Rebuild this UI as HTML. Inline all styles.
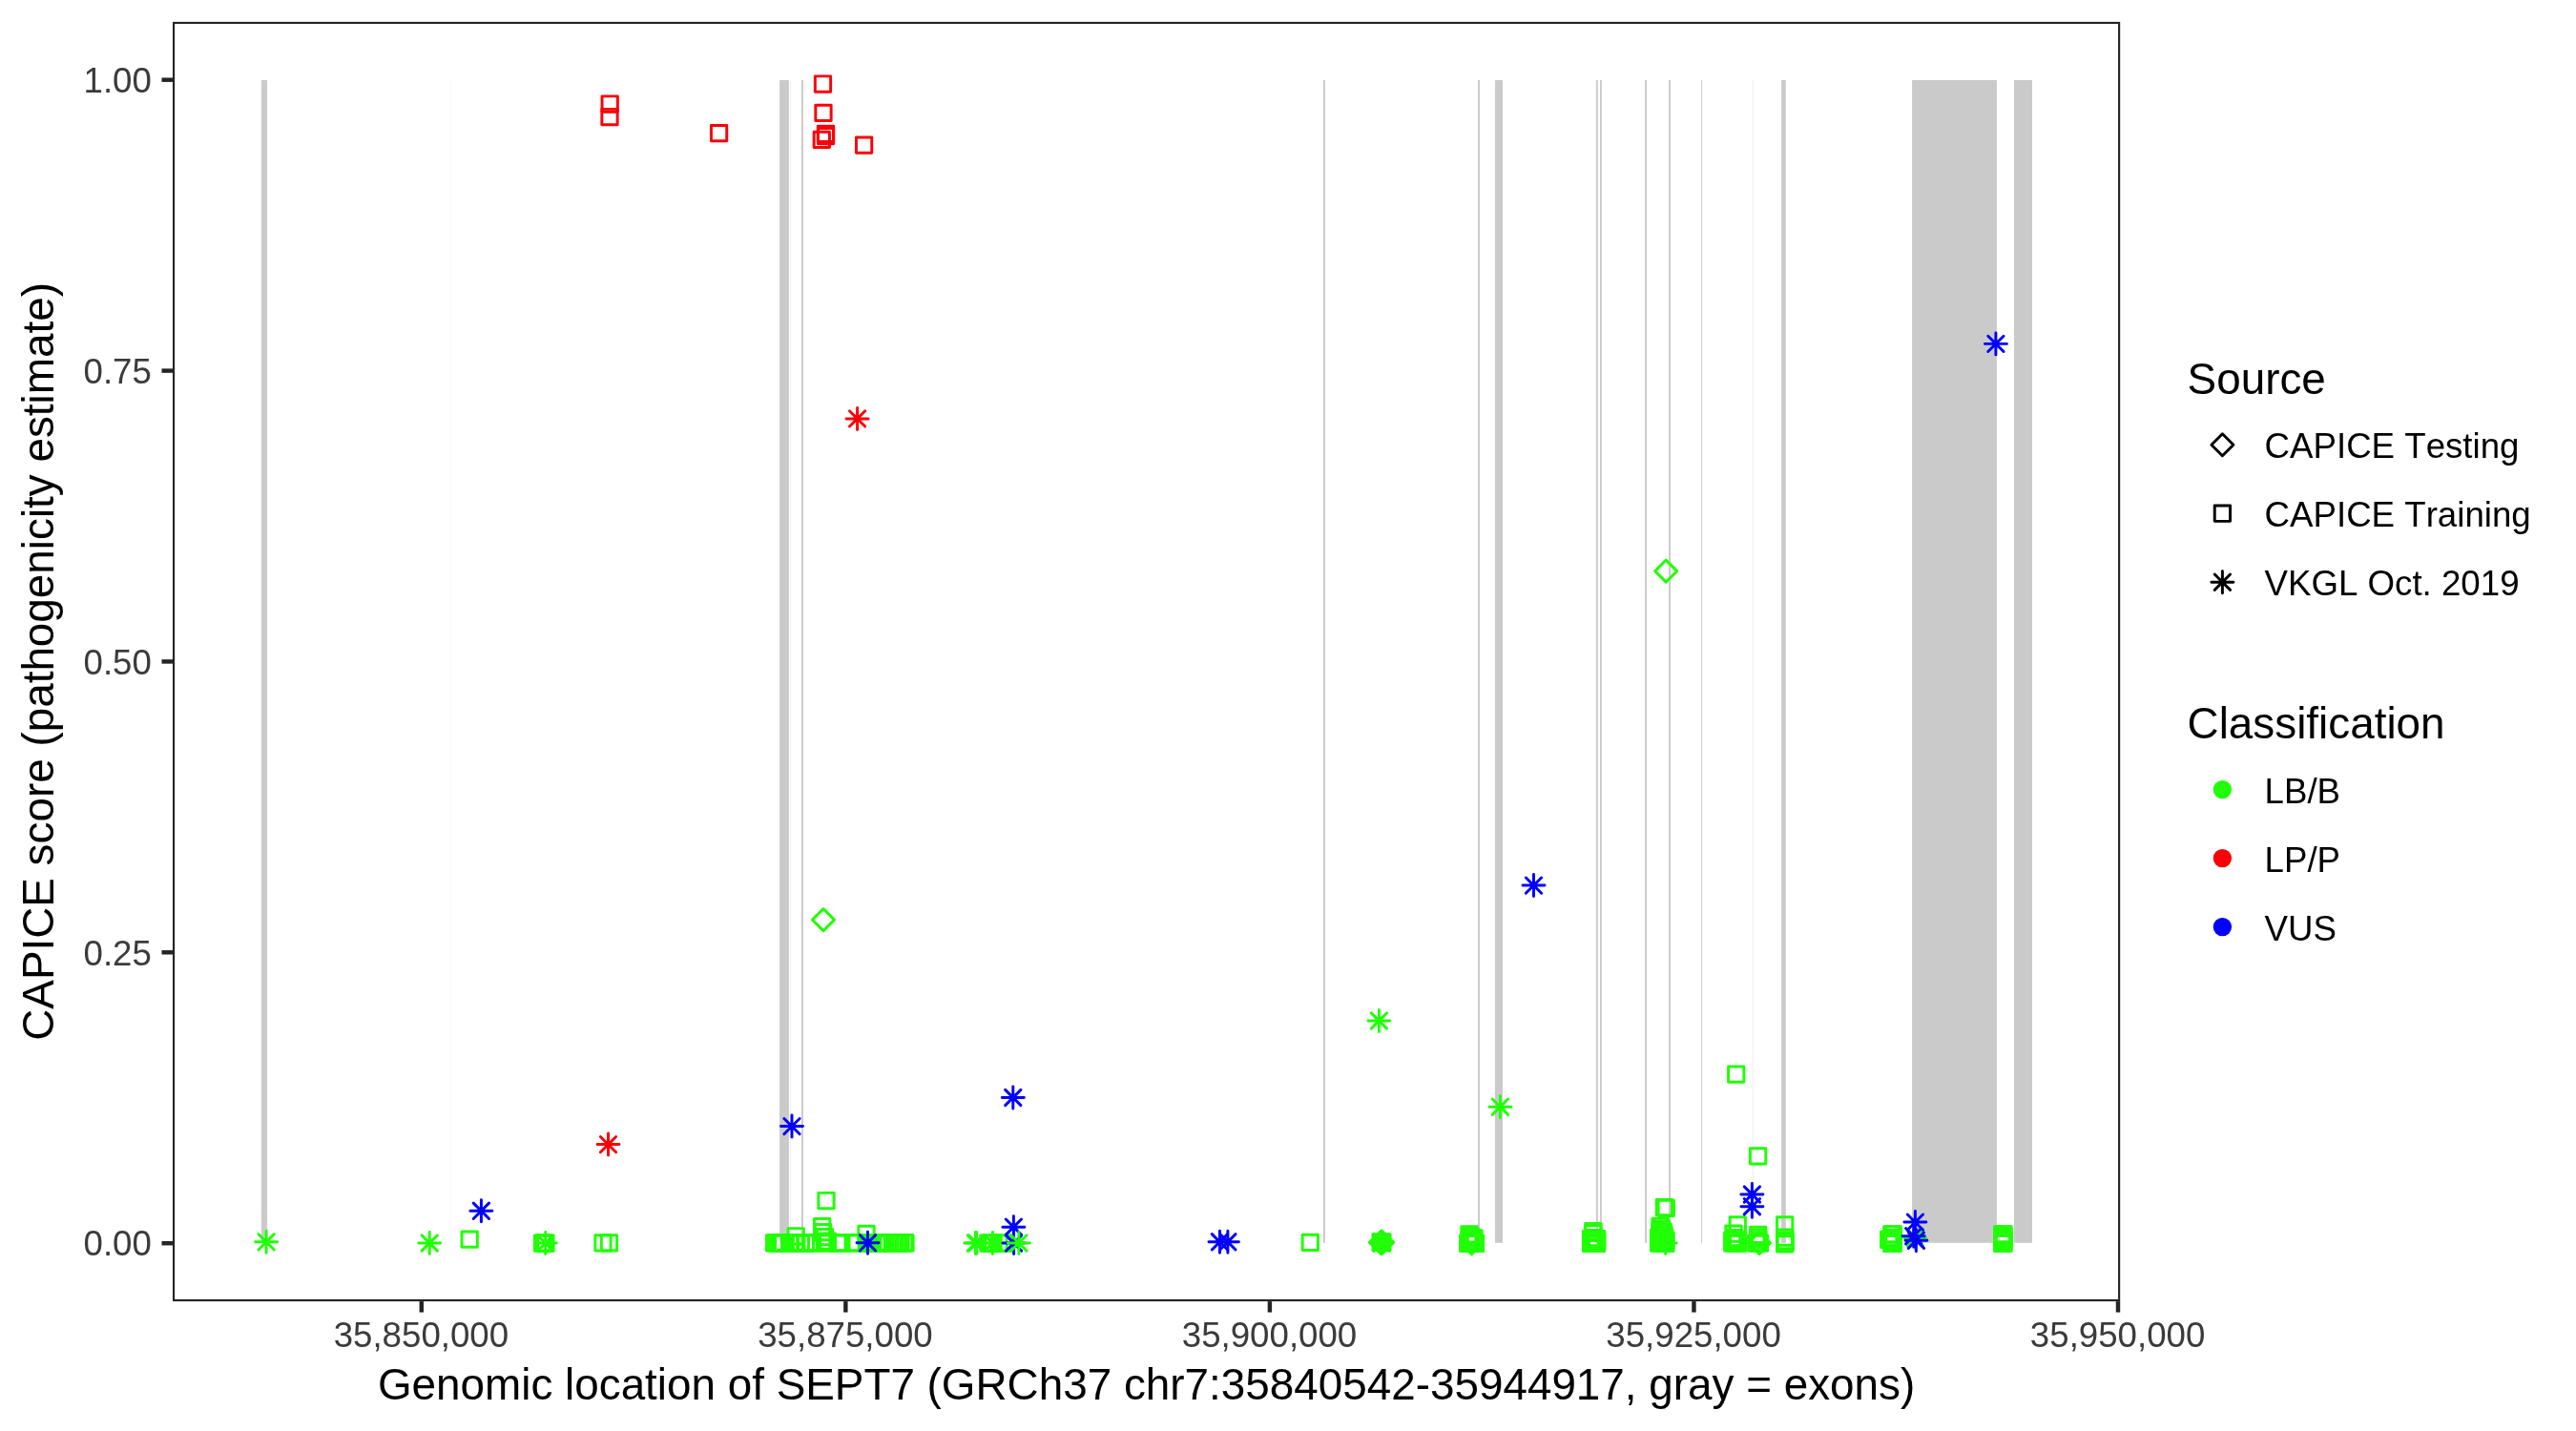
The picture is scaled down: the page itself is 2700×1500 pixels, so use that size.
<!DOCTYPE html>
<html lang="en"><head><meta charset="utf-8">
<title>CAPICE score along SEPT7</title>
<style>
html,body{margin:0;padding:0;background:#fff;}
body{width:2700px;height:1500px;overflow:hidden;}
svg{display:block;will-change:transform;}
text{font-family:"Liberation Sans",sans-serif;font-kerning:none;}
.at{font-size:36.67px;fill:#3B3B3B;}
.ti{font-size:45.83px;fill:#000;}
.lt{font-size:36.67px;fill:#000;}
.pt{fill:none;stroke-width:2.95;stroke-linejoin:round;stroke-linecap:round;}
</style></head><body>
<svg width="2700" height="1500" viewBox="0 0 2700 1500">
<defs>
<rect id="s" x="-8.15" y="-8.15" width="16.3" height="16.3"/>
<path id="d" d="M-11.5 0L0 -11.5L11.5 0L0 11.5Z"/>
<path id="a" d="M-8.15 -8.15L8.15 8.15M-8.15 8.15L8.15 -8.15M-11.5 0L11.5 0M0 -11.5L0 11.5"/>
<clipPath id="pc"><rect x="181" y="22.9" width="2041.2" height="1341.2"/></clipPath>
</defs>
<rect width="2700" height="1500" fill="#fff"/>
<g id="exons">
<rect x="274" y="83.9" width="6.1" height="1218.9" fill="#CACACA"/>
<rect x="472.4" y="83.9" width="0.6" height="1218.9" fill="#F3F3F3"/>
<rect x="817.1" y="83.9" width="9.8" height="1218.9" fill="#CACACA"/>
<rect x="828" y="83.9" width="0.8" height="1218.9" fill="#EAEAEA"/>
<rect x="840" y="83.9" width="1.9" height="1218.9" fill="#CACACA"/>
<rect x="1387" y="83.9" width="1.9" height="1218.9" fill="#CACACA"/>
<rect x="1549" y="83.9" width="2" height="1218.9" fill="#CACACA"/>
<rect x="1567" y="83.9" width="8" height="1218.9" fill="#CACACA"/>
<rect x="1673" y="83.9" width="1.8" height="1218.9" fill="#CACACA"/>
<rect x="1677" y="83.9" width="1.9" height="1218.9" fill="#CACACA"/>
<rect x="1724.1" y="83.9" width="2" height="1218.9" fill="#CACACA"/>
<rect x="1749.1" y="83.9" width="1.9" height="1218.9" fill="#CACACA"/>
<rect x="1783" y="83.9" width="1.1" height="1218.9" fill="#CFCFCF"/>
<rect x="1837.1" y="83.9" width="0.6" height="1218.9" fill="#E6E6E6"/>
<rect x="1867.1" y="83.9" width="4.7" height="1218.9" fill="#CACACA"/>
<rect x="2004.1" y="83.9" width="88.8" height="1218.9" fill="#CACACA"/>
<rect x="2111" y="83.9" width="19" height="1218.9" fill="#CACACA"/>
</g>
<g id="points" class="pt" clip-path="url(#pc)">
<use href="#s" x="639.2" y="109" stroke="#FB0007"/>
<use href="#s" x="639" y="122.5" stroke="#FB0007"/>
<use href="#s" x="753.6" y="139.6" stroke="#FB0007"/>
<use href="#s" x="862.5" y="88" stroke="#FB0007"/>
<use href="#s" x="863" y="118.3" stroke="#FB0007"/>
<use href="#s" x="865.5" y="140.3" stroke="#FB0007"/>
<use href="#s" x="865.5" y="142.7" stroke="#FB0007"/>
<use href="#s" x="861.3" y="146.4" stroke="#FB0007"/>
<use href="#s" x="905.6" y="152.1" stroke="#FB0007"/>
<use href="#s" x="492.2" y="1299.1" stroke="#21FF06"/>
<use href="#s" x="568.6" y="1303.1" stroke="#21FF06"/>
<use href="#s" x="570.2" y="1303.1" stroke="#21FF06"/>
<use href="#s" x="571.9" y="1303.1" stroke="#21FF06"/>
<use href="#s" x="632" y="1302.9" stroke="#21FF06"/>
<use href="#s" x="638.5" y="1302.9" stroke="#21FF06"/>
<use href="#s" x="866" y="1258.5" stroke="#21FF06"/>
<use href="#s" x="834.2" y="1295.75" stroke="#21FF06"/>
<use href="#s" x="908" y="1293.4" stroke="#21FF06"/>
<use href="#s" x="861.65" y="1285.7" stroke="#21FF06"/>
<use href="#s" x="862.5" y="1291.65" stroke="#21FF06"/>
<use href="#s" x="864.4" y="1296.6" stroke="#21FF06"/>
<use href="#s" x="867.3" y="1301.2" stroke="#21FF06"/>
<use href="#s" x="1373.3" y="1302.4" stroke="#21FF06"/>
<use href="#s" x="1819.7" y="1126.2" stroke="#21FF06"/>
<use href="#s" x="1842.6" y="1211.8" stroke="#21FF06"/>
<use href="#s" x="1744.4" y="1265.5" stroke="#21FF06"/>
<use href="#s" x="1746.3" y="1266.3" stroke="#21FF06"/>
<use href="#s" x="811.62" y="1302.85" stroke="#21FF06"/>
<use href="#s" x="814.17" y="1302.85" stroke="#21FF06"/>
<use href="#s" x="816.73" y="1302.85" stroke="#21FF06"/>
<use href="#s" x="816.83" y="1302.85" stroke="#21FF06"/>
<use href="#s" x="819.38" y="1302.85" stroke="#21FF06"/>
<use href="#s" x="820.83" y="1302.85" stroke="#21FF06"/>
<use href="#s" x="827.73" y="1302.85" stroke="#21FF06"/>
<use href="#s" x="828.48" y="1302.85" stroke="#21FF06"/>
<use href="#s" x="833.12" y="1302.85" stroke="#21FF06"/>
<use href="#s" x="839.23" y="1302.85" stroke="#21FF06"/>
<use href="#s" x="839.48" y="1302.85" stroke="#21FF06"/>
<use href="#s" x="844.33" y="1302.85" stroke="#21FF06"/>
<use href="#s" x="844.48" y="1302.85" stroke="#21FF06"/>
<use href="#s" x="849.42" y="1302.85" stroke="#21FF06"/>
<use href="#s" x="851.08" y="1302.85" stroke="#21FF06"/>
<use href="#s" x="864.52" y="1302.85" stroke="#21FF06"/>
<use href="#s" x="867.52" y="1302.85" stroke="#21FF06"/>
<use href="#s" x="878.12" y="1302.85" stroke="#21FF06"/>
<use href="#s" x="878.27" y="1302.85" stroke="#21FF06"/>
<use href="#s" x="881.88" y="1302.85" stroke="#21FF06"/>
<use href="#s" x="894.42" y="1302.85" stroke="#21FF06"/>
<use href="#s" x="895.62" y="1302.85" stroke="#21FF06"/>
<use href="#s" x="908.42" y="1302.85" stroke="#21FF06"/>
<use href="#s" x="908.58" y="1302.85" stroke="#21FF06"/>
<use href="#s" x="913.67" y="1302.85" stroke="#21FF06"/>
<use href="#s" x="914.77" y="1302.85" stroke="#21FF06"/>
<use href="#s" x="919.02" y="1302.85" stroke="#21FF06"/>
<use href="#s" x="919.38" y="1302.85" stroke="#21FF06"/>
<use href="#s" x="921.92" y="1302.85" stroke="#21FF06"/>
<use href="#s" x="924.48" y="1302.85" stroke="#21FF06"/>
<use href="#s" x="927.42" y="1302.85" stroke="#21FF06"/>
<use href="#s" x="930.48" y="1302.85" stroke="#21FF06"/>
<use href="#s" x="935.67" y="1302.85" stroke="#21FF06"/>
<use href="#s" x="937.67" y="1302.85" stroke="#21FF06"/>
<use href="#s" x="940.58" y="1302.85" stroke="#21FF06"/>
<use href="#s" x="941.17" y="1302.85" stroke="#21FF06"/>
<use href="#s" x="941.33" y="1302.85" stroke="#21FF06"/>
<use href="#s" x="943.88" y="1302.85" stroke="#21FF06"/>
<use href="#s" x="947.67" y="1302.85" stroke="#21FF06"/>
<use href="#s" x="948.98" y="1302.85" stroke="#21FF06"/>
<use href="#s" x="1036" y="1303" stroke="#21FF06"/>
<use href="#s" x="1038.5" y="1303" stroke="#21FF06"/>
<use href="#s" x="1041" y="1303" stroke="#21FF06"/>
<use href="#s" x="1047" y="1303" stroke="#21FF06"/>
<use href="#s" x="1051.5" y="1303" stroke="#21FF06"/>
<use href="#s" x="1448" y="1302.4" stroke="#21FF06"/>
<use href="#s" x="1447.2" y="1302.4" stroke="#21FF06"/>
<use href="#s" x="1448.8" y="1302.4" stroke="#21FF06"/>
<use href="#s" x="1540" y="1293.9" stroke="#21FF06"/>
<use href="#s" x="1541.6" y="1296.4" stroke="#21FF06"/>
<use href="#s" x="1543.6" y="1299" stroke="#21FF06"/>
<use href="#s" x="1538.7" y="1303.3" stroke="#21FF06"/>
<use href="#s" x="1541.3" y="1303.3" stroke="#21FF06"/>
<use href="#s" x="1544" y="1303.3" stroke="#21FF06"/>
<use href="#s" x="1546.5" y="1303.3" stroke="#21FF06"/>
<use href="#s" x="1540" y="1300.4" stroke="#21FF06"/>
<use href="#s" x="1543" y="1301.6" stroke="#21FF06"/>
<use href="#s" x="1545" y="1297.8" stroke="#21FF06"/>
<use href="#s" x="1669.9" y="1290.6" stroke="#21FF06"/>
<use href="#s" x="1669.9" y="1292.6" stroke="#21FF06"/>
<use href="#s" x="1670.6" y="1297.6" stroke="#21FF06"/>
<use href="#s" x="1667.6" y="1298.5" stroke="#21FF06"/>
<use href="#s" x="1673.6" y="1298.5" stroke="#21FF06"/>
<use href="#s" x="1667.6" y="1301" stroke="#21FF06"/>
<use href="#s" x="1673.6" y="1301" stroke="#21FF06"/>
<use href="#s" x="1667.6" y="1303.4" stroke="#21FF06"/>
<use href="#s" x="1673.6" y="1303.4" stroke="#21FF06"/>
<use href="#s" x="1670.6" y="1303.4" stroke="#21FF06"/>
<use href="#s" x="1740" y="1285.4" stroke="#21FF06"/>
<use href="#s" x="1741.5" y="1288.3" stroke="#21FF06"/>
<use href="#s" x="1743" y="1291.2" stroke="#21FF06"/>
<use href="#s" x="1744" y="1294.1" stroke="#21FF06"/>
<use href="#s" x="1738.7" y="1297" stroke="#21FF06"/>
<use href="#s" x="1741.6" y="1297" stroke="#21FF06"/>
<use href="#s" x="1744.5" y="1297" stroke="#21FF06"/>
<use href="#s" x="1738.7" y="1300" stroke="#21FF06"/>
<use href="#s" x="1741.6" y="1300" stroke="#21FF06"/>
<use href="#s" x="1744.5" y="1300" stroke="#21FF06"/>
<use href="#s" x="1745.9" y="1300" stroke="#21FF06"/>
<use href="#s" x="1738.7" y="1303.1" stroke="#21FF06"/>
<use href="#s" x="1741.6" y="1303.1" stroke="#21FF06"/>
<use href="#s" x="1744.5" y="1303.1" stroke="#21FF06"/>
<use href="#s" x="1745.9" y="1303.1" stroke="#21FF06"/>
<use href="#s" x="1740" y="1291.2" stroke="#21FF06"/>
<use href="#s" x="1741" y="1294.1" stroke="#21FF06"/>
<use href="#s" x="1821.3" y="1283.9" stroke="#21FF06"/>
<use href="#s" x="1817" y="1293.2" stroke="#21FF06"/>
<use href="#s" x="1817.5" y="1297.7" stroke="#21FF06"/>
<use href="#s" x="1815.8" y="1300.2" stroke="#21FF06"/>
<use href="#s" x="1818.7" y="1300.2" stroke="#21FF06"/>
<use href="#s" x="1821.6" y="1300.2" stroke="#21FF06"/>
<use href="#s" x="1815.8" y="1303.1" stroke="#21FF06"/>
<use href="#s" x="1818.7" y="1303.1" stroke="#21FF06"/>
<use href="#s" x="1821.6" y="1303.1" stroke="#21FF06"/>
<use href="#s" x="1842.7" y="1294.3" stroke="#21FF06"/>
<use href="#s" x="1842.7" y="1297.3" stroke="#21FF06"/>
<use href="#s" x="1842.7" y="1300.2" stroke="#21FF06"/>
<use href="#s" x="1840.8" y="1303.1" stroke="#21FF06"/>
<use href="#s" x="1844.5" y="1303.1" stroke="#21FF06"/>
<use href="#s" x="1870.7" y="1283.9" stroke="#21FF06"/>
<use href="#s" x="1870.7" y="1297.1" stroke="#21FF06"/>
<use href="#s" x="1870.7" y="1300.5" stroke="#21FF06"/>
<use href="#s" x="1870.7" y="1303.9" stroke="#21FF06"/>
<use href="#s" x="1871.3" y="1302.2" stroke="#21FF06"/>
<use href="#s" x="1979.7" y="1299.4" stroke="#21FF06"/>
<use href="#s" x="1982.8" y="1293.9" stroke="#21FF06"/>
<use href="#s" x="1982.8" y="1297.5" stroke="#21FF06"/>
<use href="#s" x="1982.8" y="1299.3" stroke="#21FF06"/>
<use href="#s" x="1982.8" y="1300.9" stroke="#21FF06"/>
<use href="#s" x="1982.8" y="1303.4" stroke="#21FF06"/>
<use href="#s" x="1984.3" y="1293.9" stroke="#21FF06"/>
<use href="#s" x="1984.3" y="1297.5" stroke="#21FF06"/>
<use href="#s" x="1984.3" y="1299.3" stroke="#21FF06"/>
<use href="#s" x="1984.3" y="1300.9" stroke="#21FF06"/>
<use href="#s" x="1984.3" y="1303.4" stroke="#21FF06"/>
<use href="#s" x="2098.7" y="1293.9" stroke="#21FF06"/>
<use href="#s" x="2098.7" y="1296.6" stroke="#21FF06"/>
<use href="#s" x="2098.7" y="1299.3" stroke="#21FF06"/>
<use href="#s" x="2098.7" y="1300.9" stroke="#21FF06"/>
<use href="#s" x="2098.7" y="1303.3" stroke="#21FF06"/>
<use href="#s" x="2100" y="1293.9" stroke="#21FF06"/>
<use href="#s" x="2100" y="1296.6" stroke="#21FF06"/>
<use href="#s" x="2100" y="1299.3" stroke="#21FF06"/>
<use href="#s" x="2100" y="1300.9" stroke="#21FF06"/>
<use href="#s" x="2100" y="1303.3" stroke="#21FF06"/>
<use href="#d" x="1448" y="1302.4" stroke="#21FF06"/>
<use href="#d" x="1447" y="1302.4" stroke="#21FF06"/>
<use href="#d" x="1449" y="1302.4" stroke="#21FF06"/>
<use href="#d" x="1542.5" y="1303.1" stroke="#21FF06"/>
<use href="#d" x="1844" y="1303" stroke="#21FF06"/>
<use href="#d" x="863" y="964.1" stroke="#21FF06"/>
<use href="#d" x="1746.2" y="598.6" stroke="#21FF06"/>
<use href="#a" x="1448" y="1302.4" stroke="#21FF06"/>
<use href="#a" x="1447.1" y="1302.4" stroke="#21FF06"/>
<use href="#a" x="1448.9" y="1302.4" stroke="#21FF06"/>
<use href="#a" x="1448" y="1301.5" stroke="#21FF06"/>
<use href="#a" x="1448" y="1303.3" stroke="#21FF06"/>
<use href="#a" x="1745.7" y="1303" stroke="#21FF06"/>
<use href="#a" x="279.1" y="1301.8" stroke="#21FF06"/>
<use href="#a" x="450.2" y="1303" stroke="#21FF06"/>
<use href="#a" x="571.7" y="1303.1" stroke="#21FF06"/>
<use href="#a" x="1022.4" y="1303" stroke="#21FF06"/>
<use href="#a" x="1023.6" y="1303" stroke="#21FF06"/>
<use href="#a" x="1040.4" y="1303" stroke="#21FF06"/>
<use href="#a" x="1445.4" y="1070" stroke="#21FF06"/>
<use href="#a" x="1572.4" y="1160.2" stroke="#21FF06"/>
<use href="#a" x="2007.5" y="1297.7" stroke="#21FF06"/>
<use href="#a" x="637.5" y="1199.6" stroke="#FB0007"/>
<use href="#a" x="898.6" y="438.9" stroke="#FB0007"/>
<use href="#a" x="504.4" y="1269.3" stroke="#0000FF"/>
<use href="#a" x="830" y="1180.6" stroke="#0000FF"/>
<use href="#a" x="909.5" y="1302.8" stroke="#0000FF"/>
<use href="#a" x="1061.8" y="1150.5" stroke="#0000FF"/>
<use href="#a" x="1062.4" y="1286.2" stroke="#0000FF"/>
<use href="#a" x="1062.6" y="1303.05" stroke="#0000FF"/>
<use href="#a" x="1278.5" y="1301.8" stroke="#0000FF"/>
<use href="#a" x="1286.9" y="1301.8" stroke="#0000FF"/>
<use href="#a" x="1607.5" y="928.1" stroke="#0000FF"/>
<use href="#a" x="1836.4" y="1252" stroke="#0000FF"/>
<use href="#a" x="1836.4" y="1264.7" stroke="#0000FF"/>
<use href="#a" x="2007.4" y="1281.1" stroke="#0000FF"/>
<use href="#a" x="2005.7" y="1295.7" stroke="#0000FF"/>
<use href="#a" x="2008.4" y="1300.2" stroke="#0000FF"/>
<use href="#a" x="2091.9" y="360.4" stroke="#0000FF"/>
<use href="#a" x="1067.9" y="1302.95" stroke="#21FF06"/>
</g>
<rect x="182.07" y="23.97" width="2039.05" height="1339.05" fill="none" stroke="#242424" stroke-width="2.15"/>
<g stroke="#242424" stroke-width="4.45">
<line x1="169.5" y1="1303.2" x2="181" y2="1303.2"/>
<line x1="169.5" y1="998.3" x2="181" y2="998.3"/>
<line x1="169.5" y1="693.45" x2="181" y2="693.45"/>
<line x1="169.5" y1="388.6" x2="181" y2="388.6"/>
<line x1="169.5" y1="83.7" x2="181" y2="83.7"/>
<line x1="441.8" y1="1364.1" x2="441.8" y2="1375.6"/>
<line x1="886.35" y1="1364.1" x2="886.35" y2="1375.6"/>
<line x1="1330.9" y1="1364.1" x2="1330.9" y2="1375.6"/>
<line x1="1775.45" y1="1364.1" x2="1775.45" y2="1375.6"/>
<line x1="2220" y1="1364.1" x2="2220" y2="1375.6"/>
</g>
<g class="at" text-anchor="end">
<text x="158.9" y="1316.4">0.00</text>
<text x="158.9" y="1011.5">0.25</text>
<text x="158.9" y="706.65">0.50</text>
<text x="158.9" y="401.8">0.75</text>
<text x="158.9" y="96.9">1.00</text>
</g>
<g class="at" text-anchor="middle">
<text x="441.4" y="1412.3">35,850,000</text>
<text x="885.95" y="1412.3">35,875,000</text>
<text x="1330.5" y="1412.3">35,900,000</text>
<text x="1775.05" y="1412.3">35,925,000</text>
<text x="2219.6" y="1412.3">35,950,000</text>
</g>
<text class="ti" text-anchor="middle" x="1201.6" y="1466.8">Genomic location of SEPT7 (GRCh37 chr7:35840542-35944917, gray = exons)</text>
<text class="ti" text-anchor="middle" transform="translate(55.5 693.4) rotate(-90)">CAPICE score (pathogenicity estimate)</text>
<text class="ti" x="2292.6" y="413">Source</text>
<g class="pt" stroke="#000">
<use href="#d" x="2329.4" y="466.2"/>
<use href="#s" x="2329.4" y="538.2"/>
<use href="#a" x="2329.4" y="610.2"/>
</g>
<g class="lt">
<text x="2373.6" y="479.9">CAPICE Testing</text>
<text x="2373.6" y="551.9">CAPICE Training</text>
<text x="2373.6" y="623.9">VKGL Oct. 2019</text>
</g>
<text class="ti" x="2292.6" y="774.1">Classification</text>
<circle cx="2329.4" cy="827.6" r="9.7" fill="#21FF06"/>
<circle cx="2329.4" cy="899.6" r="9.7" fill="#FB0007"/>
<circle cx="2329.4" cy="971.6" r="9.7" fill="#0000FF"/>
<g class="lt">
<text x="2373.6" y="841.5">LB/B</text>
<text x="2373.6" y="913.5">LP/P</text>
<text x="2373.6" y="985.5">VUS</text>
</g>
</svg>
</body></html>
